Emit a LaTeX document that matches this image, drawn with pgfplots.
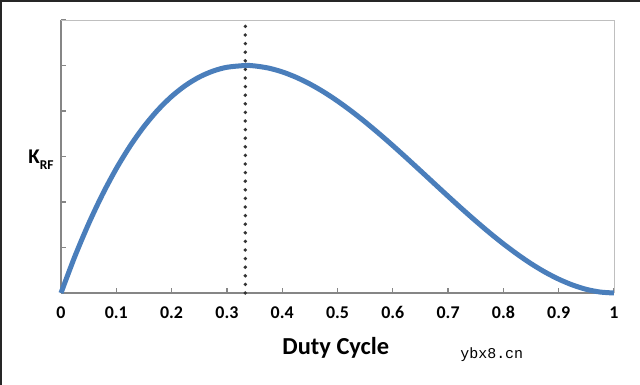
\documentclass[border=0pt]{standalone}
\usepackage{pgfplots}
\pgfplotsset{compat=1.18}
\usepackage{fontspec}
\setmainfont{Carlito}
\newfontfamily\wmfont{Liberation Mono}
\definecolor{curve}{HTML}{4A7EBB}
\definecolor{axgray}{HTML}{868686}
\definecolor{boxgray}{HTML}{BFBFBF}
\definecolor{dotgray}{HTML}{333333}
\begin{document}
\begin{tikzpicture}
\path[use as bounding box, fill=white] (-61bp,-92bp) rectangle (579bp,293bp);
\draw[black!85, line width=2bp] (-60bp,-92bp) -- (-60bp,292bp) -- (579bp,292bp);
\begin{axis}[
  at={(0,0)}, anchor=south west,
  scale only axis, width=553bp, height=273bp,
  xmin=0, xmax=1, ymin=0, ymax=6,
  axis x line=bottom, axis y line=left,
  axis line style={-, draw=axgray, line width=2bp},
  tick align=inside,
  xtick={0,0.1,0.2,0.3,0.4,0.5,0.6,0.7,0.8,0.9,1},
  xticklabels={0,0.1,0.2,0.3,0.4,0.5,0.6,0.7,0.8,0.9,1},
  ytick={1,2,3,4,5,6}, yticklabels={},
  major tick length=5bp,
  tick style={draw=axgray, line width=1.3bp},
  xticklabel style={font=\bfseries\fontsize{18}{18}\selectfont, yshift=-10bp},
  clip=false,
]
\addplot[dotgray, line width=3.8bp, line cap=round, dash pattern=on 0pt off 8.6bp] coordinates {(0.3333,0) (0.3333,6)};
\addplot[curve, line width=5bp, smooth] coordinates {
(0,0) (0.025,0.802) (0.05,1.523) (0.075,2.166) (0.1,2.734) (0.125,3.230)
(0.15,3.658) (0.175,4.020) (0.2,4.320) (0.225,4.561) (0.25,4.746) (0.275,4.878)
(0.3,4.961) (0.3333,5.0) (0.35,4.991) (0.375,4.944) (0.4,4.860) (0.425,4.742)
(0.45,4.594) (0.475,4.419) (0.5,4.219) (0.525,3.998) (0.55,3.759) (0.575,3.505)
(0.6,3.240) (0.625,2.966) (0.65,2.687) (0.675,2.406) (0.7,2.126) (0.725,1.850)
(0.75,1.582) (0.775,1.324) (0.8,1.080) (0.825,0.853) (0.85,0.645) (0.875,0.461)
(0.9,0.304) (0.925,0.176) (0.95,0.080) (0.975,0.021) (1,0)};
\draw[boxgray, line width=1bp] (rel axis cs:0,1) -- (rel axis cs:1,1) -- (rel axis cs:1,0);
\node at (axis cs:0.497,0) [yshift=-55bp] {\bfseries\fontsize{24.5}{24.5}\selectfont Duty Cycle};
\node at (rel axis cs:0,0) [xshift=-20bp, yshift=133bp] {\bfseries\fontsize{21}{21}\selectfont K\raisebox{-0.28em}{\fontsize{13.5}{13.5}\selectfont RF}};
\node at (axis cs:0.779,0) [yshift=-62bp] {\wmfont\fontsize{15}{15}\selectfont ybx8.cn};
\end{axis}
\end{tikzpicture}
\end{document}
